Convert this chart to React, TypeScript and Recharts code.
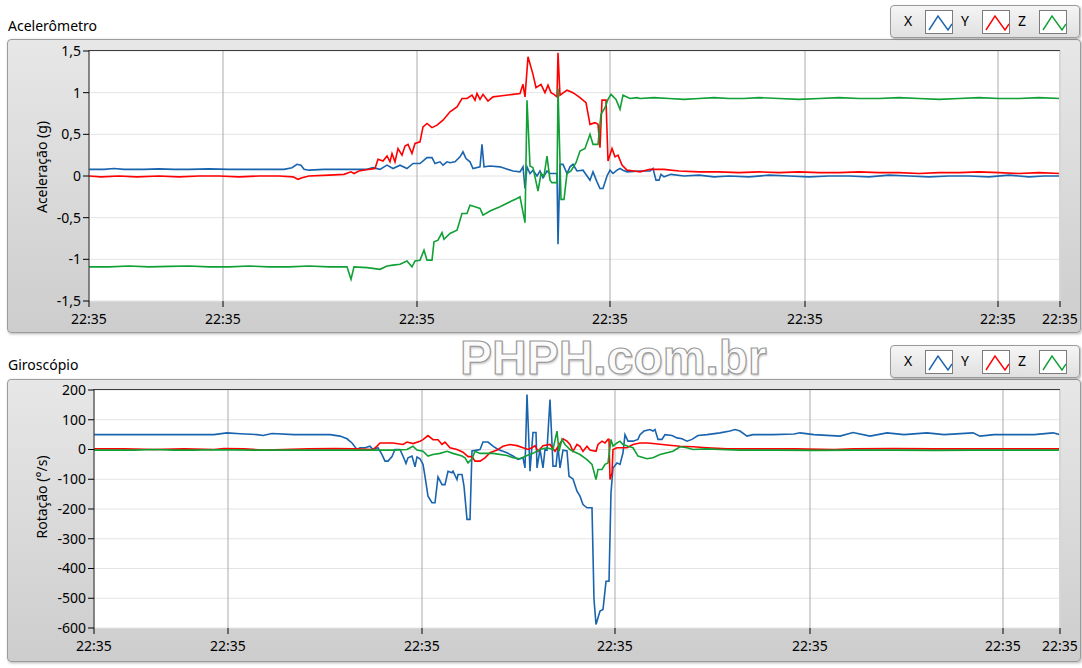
import { LineChart, Line, XAxis, YAxis, CartesianGrid } from 'recharts'

type Pair = [number, number]

const timeLabel = '22:35'
const accelTimeTicks = [0, 134, 328, 521, 716, 909, 971]
const gyroTimeTicks = [0, 134, 328, 521, 716, 909, 966]
const accelTicks = [-1.5, -1, -0.5, 0, 0.5, 1, 1.5]
const gyroTicks = [-600, -500, -400, -300, -200, -100, 0, 100, 200]

const seriesNames = ['X', 'Y', 'Z']
const seriesColors = ['#1a64ae', '#ff0000', '#10a035']

// [sample, g]
const accelX: Pair[] = [
  [0, 0.08], [15, 0.08], [25, 0.09], [35, 0.08], [55, 0.08], [70, 0.085], [85, 0.08], [100, 0.08],
  [120, 0.085], [140, 0.08], [160, 0.08], [180, 0.08], [195, 0.08], [203, 0.1], [208, 0.14], [212, 0.13],
  [215, 0.08], [220, 0.07], [235, 0.08], [260, 0.08], [278, 0.08], [284, 0.1], [291, 0.08], [298, 0.13],
  [304, 0.09], [311, 0.13], [318, 0.09], [324, 0.15], [331, 0.15], [338, 0.22], [343, 0.22], [346, 0.15],
  [351, 0.17], [354, 0.13], [358, 0.17], [361, 0.16], [366, 0.17], [371, 0.23], [374, 0.29], [377, 0.21],
  [381, 0.17], [384, 0.09], [391, 0.11], [393, 0.38], [395, 0.11], [401, 0.12], [411, 0.11], [424, 0.06],
  [431, 0.05], [434, 0.11], [436, -0.15], [438, 0.11], [441, 0.03], [444, 0.07], [448, 0.0], [451, 0.06],
  [454, -0.02], [458, 0.06], [461, 0.03], [468, 0.03], [469, -0.82], [471, 0.14], [474, 0.14], [478, 0.03],
  [481, 0.11], [484, 0.14], [488, 0.06], [494, 0.07], [501, -0.05], [504, 0.05], [508, -0.07], [511, -0.15],
  [514, -0.15], [518, 0.0], [521, 0.07], [524, 0.03], [528, 0.07], [531, 0.09], [534, 0.07], [538, 0.05],
  [551, 0.06], [561, 0.06], [564, 0.09], [567, -0.05], [570, -0.05], [572, 0.02], [575, -0.01], [582, 0.02],
  [595, 0.0], [610, 0.01], [625, -0.01], [640, 0.0], [660, -0.01], [680, 0.01], [700, 0.0], [720, -0.01],
  [740, 0.0], [760, 0.0], [780, -0.01], [800, 0.01], [820, 0.0], [840, -0.01], [860, 0.0], [880, 0.0],
  [900, -0.01], [920, 0.01], [940, -0.01], [955, 0.0], [971, 0.0],
]

const accelY: Pair[] = [
  [0, 0], [12, -0.01], [30, 0], [48, -0.01], [70, 0], [90, -0.01], [110, 0], [130, 0], [150, -0.01],
  [170, 0], [190, 0], [204, -0.01], [209, -0.04], [213, -0.02], [220, 0], [240, 0.01], [255, 0.02],
  [262, 0.05], [265, 0.03], [270, 0.06], [280, 0.08], [286, 0.09], [289, 0.2], [294, 0.18], [298, 0.24],
  [301, 0.17], [303, 0.27], [306, 0.17], [309, 0.33], [313, 0.25], [316, 0.36], [319, 0.38], [323, 0.27],
  [326, 0.39], [331, 0.41], [334, 0.59], [338, 0.63], [343, 0.58], [348, 0.61], [354, 0.67], [361, 0.77],
  [368, 0.83], [373, 0.93], [378, 0.93], [383, 0.97], [386, 0.91], [388, 0.99], [391, 0.92], [394, 0.98],
  [399, 0.9], [404, 0.95], [411, 0.96], [424, 0.98], [431, 0.99], [434, 1.1], [436, 0.95], [439, 1.43],
  [444, 1.22], [447, 1.06], [452, 1.1], [456, 1.0], [459, 1.09], [462, 1.0], [465, 0.98], [468, 0.95],
  [469, 1.48], [471, 0.97], [478, 1.03], [484, 1.0], [491, 0.94], [497, 0.88], [501, 0.62], [506, 0.64],
  [509, 0.62], [511, 0.34], [513, 0.91], [517, 0.91], [519, 0.18], [523, 0.33], [526, 0.23], [529, 0.25],
  [533, 0.13], [538, 0.07], [545, 0.06], [551, 0.05], [561, 0.08], [575, 0.08], [590, 0.06], [610, 0.05],
  [630, 0.05], [650, 0.04], [670, 0.05], [690, 0.04], [710, 0.05], [730, 0.04], [750, 0.04], [770, 0.05],
  [790, 0.04], [810, 0.04], [830, 0.03], [850, 0.04], [870, 0.04], [890, 0.05], [910, 0.04], [930, 0.03],
  [950, 0.04], [971, 0.03],
]

const accelZ: Pair[] = [
  [0, -1.09], [20, -1.09], [40, -1.08], [60, -1.09], [80, -1.085], [100, -1.08], [120, -1.09], [140, -1.09],
  [160, -1.08], [180, -1.09], [200, -1.09], [220, -1.08], [240, -1.09], [258, -1.09], [262, -1.24],
  [265, -1.09], [278, -1.1], [291, -1.12], [298, -1.08], [304, -1.07], [311, -1.06], [318, -1.02],
  [323, -1.09], [326, -1.02], [331, -1.01], [335, -0.89], [338, -1.01], [343, -1.01], [345, -0.79],
  [349, -0.77], [353, -0.68], [355, -0.76], [361, -0.69], [368, -0.65], [373, -0.45], [378, -0.45],
  [381, -0.35], [386, -0.37], [391, -0.39], [394, -0.47], [401, -0.42], [411, -0.37], [421, -0.31],
  [428, -0.27], [431, -0.25], [436, -0.56], [438, 0.91], [441, 0.12], [444, 0.1], [449, -0.18], [452, 0.03],
  [455, 0.0], [458, 0.24], [461, -0.05], [463, -0.08], [468, -0.08], [469, 1.05], [472, -0.28], [475, -0.28],
  [478, 0.03], [482, 0.06], [487, 0.16], [491, 0.3], [496, 0.33], [501, 0.5], [504, 0.38], [509, 0.38],
  [512, 0.74], [516, 0.82], [519, 0.92], [522, 0.98], [527, 0.92], [531, 0.8], [534, 0.97], [541, 0.93],
  [548, 0.94], [551, 0.93], [565, 0.94], [580, 0.93], [595, 0.92], [610, 0.93], [625, 0.94], [640, 0.93],
  [655, 0.93], [670, 0.94], [690, 0.93], [710, 0.92], [730, 0.93], [750, 0.94], [770, 0.93], [790, 0.93],
  [810, 0.94], [830, 0.93], [850, 0.92], [870, 0.93], [890, 0.94], [910, 0.93], [930, 0.93], [950, 0.94],
  [971, 0.93],
]

// [sample, °/s]
const gyroX: Pair[] = [
  [0, 50], [40, 50], [80, 50], [120, 50], [133, 56], [146, 53], [163, 50], [169, 47], [178, 54], [200, 50],
  [229, 50], [236, 50], [246, 45], [253, 36], [258, 22], [263, 0], [266, 6], [271, 6], [276, 11], [279, 0],
  [284, 6], [288, -17], [291, -39], [294, -39], [298, -24], [301, 0], [306, 0], [309, -22], [312, -47],
  [314, -28], [318, -22], [321, -58], [323, -25], [326, -31], [329, -50], [331, -90], [334, -157],
  [338, -179], [341, -179], [344, -92], [348, -118], [351, -118], [354, -73], [358, -78], [359, -73],
  [363, -101], [364, -84], [368, -84], [370, -123], [373, -235], [376, -235], [378, -5], [383, -2],
  [386, 0], [389, 25], [394, 25], [399, 11], [404, 0], [413, -11], [419, -22], [424, -33], [429, -28],
  [431, -62], [433, 185], [436, -73], [439, 57], [442, 57], [443, -62], [446, 0], [449, -62], [451, 0],
  [453, -2], [456, 168], [459, -56], [462, -56], [464, 11], [466, -62], [469, -2], [473, -5], [475, -90],
  [479, -99], [483, -140], [486, -157], [489, -185], [493, -196], [498, -196], [500, -504], [502, -588],
  [506, -543], [509, -538], [512, -443], [515, -443], [517, -145], [519, -62], [523, -45], [526, -50],
  [529, -11], [531, 50], [534, 28], [539, 28], [544, 34], [546, 50], [550, 62], [556, 67], [559, 62],
  [561, 67], [564, 34], [568, 34], [571, 50], [578, 47], [583, 39], [588, 36], [593, 28], [598, 34],
  [604, 47], [613, 50], [626, 56], [636, 62], [641, 67], [646, 62], [653, 45], [659, 50], [679, 50],
  [700, 52], [706, 56], [720, 50], [746, 45], [759, 57], [776, 45], [793, 56], [810, 50], [833, 56],
  [850, 50], [879, 56], [886, 45], [900, 50], [920, 50], [940, 50], [959, 56], [966, 50],
]

const gyroY: Pair[] = [
  [0, 2], [30, 2], [60, 0], [90, 2], [120, 0], [130, 3], [150, 2], [170, -2], [190, 0], [215, 2], [240, 3],
  [260, 2], [279, 0], [283, 11], [286, 22], [299, 22], [309, 17], [313, 25], [319, 20], [326, 28], [329, 33],
  [334, 47], [339, 33], [344, 33], [348, 17], [351, 25], [356, 6], [363, 0], [369, -9], [374, -24],
  [378, -24], [381, -39], [386, -39], [391, -28], [396, -11], [403, -2], [409, 11], [416, 17], [423, 13],
  [429, 6], [434, 0], [438, 6], [441, 13], [444, -6], [449, 13], [456, 17], [461, -6], [466, 20], [469, 36],
  [473, 28], [476, 17], [479, -6], [483, 17], [486, 11], [489, -6], [493, 11], [496, -2], [502, -6],
  [504, 17], [508, 28], [511, 22], [514, 34], [515, 34], [516, -101], [518, -79], [519, 0], [523, 6],
  [533, 6], [539, 17], [546, 22], [553, 22], [559, 20], [573, 15], [586, 11], [599, 9], [613, 6], [633, 2],
  [660, 2], [700, 2], [740, 0], [760, 2], [800, 3], [840, 2], [880, 2], [920, 2], [966, 2],
]

const gyroZ: Pair[] = [
  [0, -2], [40, -2], [60, 0], [80, -2], [100, -2], [120, -1], [160, -2], [200, -2], [240, -2], [263, -2],
  [300, -2], [313, 0], [319, 11], [323, -2], [329, -6], [334, -22], [339, -17], [346, -13], [353, -6],
  [359, -13], [368, -22], [371, -28], [374, -45], [378, -31], [381, -6], [386, -13], [399, -13], [413, -20],
  [419, -28], [426, -31], [433, -20], [439, -13], [446, 0], [453, 6], [459, 0], [463, 62], [465, -6],
  [468, 34], [471, 17], [476, 0], [479, -6], [486, -17], [493, -34], [498, -50], [502, -101], [504, -67],
  [508, -67], [511, -50], [514, -45], [517, 34], [519, 11], [523, 22], [526, 28], [529, 17], [534, 11],
  [539, 6], [544, -22], [553, -31], [559, -28], [566, -17], [579, -6], [586, 9], [593, 6], [599, 0],
  [613, 2], [626, 0], [646, -2], [680, -2], [720, -3], [760, -2], [800, -2], [840, -3], [880, -2],
  [920, -2], [966, -2],
]

interface PanelLayout {
  frameTop: number
  frameBottom: number
  plotLeft: number
  plotTop: number
  plotBottom: number
  titleTop: number
  legendTop: number
  yLabelCenter: number
}

const PLOT_RIGHT = 1060

function SeriesLegend({ top }: { top: number }) {
  return (
    <div
      style={{
        position: 'absolute', left: 890, top, width: 190, height: 33, boxSizing: 'border-box',
        border: '1px solid #9a9a9a', borderRadius: 4, background: 'linear-gradient(#f5f5f5, #e0e0e0)',
        boxShadow: '1px 1px 2px rgba(0,0,0,0.3)',
      }}
    >
      {seriesNames.map((name, i) => (
        <div key={name}>
          <span style={{ position: 'absolute', left: 7 + 57 * i, top: 6, width: 20, textAlign: 'center', lineHeight: '18px' }}>
            {name}
          </span>
          <svg
            width={28}
            height={24}
            style={{ position: 'absolute', left: 34 + 57 * i, top: 4, background: '#fff', border: '1px solid #7c7c7c', boxSizing: 'border-box' }}
          >
            <polyline points="3,19 12,5 22,19 26,13" fill="none" stroke={seriesColors[i]} strokeWidth={1.4} />
          </svg>
        </div>
      ))}
    </div>
  )
}

function Panel(props: {
  title: string
  yLabel: string
  series: Pair[][]
  timeTicks: number[]
  valueTicks: number[]
  formatValue: (v: number) => string
  layout: PanelLayout
}) {
  const { title, yLabel, series, timeTicks, valueTicks, formatValue, layout } = props
  const vMin = valueTicks[0]
  const vMax = valueTicks[valueTicks.length - 1]
  const chartHeight = layout.plotBottom + 40

  return (
    <>
      <div style={{ position: 'absolute', left: 8, top: layout.titleTop, lineHeight: '14px' }}>{title}</div>
      <div
        style={{
          position: 'absolute', left: 7, top: layout.frameTop, width: 1074, height: layout.frameBottom - layout.frameTop,
          boxSizing: 'border-box', border: '1px solid #9b9b9b', borderRadius: 4,
          background: 'linear-gradient(#e7e7e7, #cdcdcd)', boxShadow: '1px 1px 3px rgba(0,0,0,0.3)',
        }}
      />
      <div style={{ position: 'absolute', left: 0, top: 0 }}>
        <LineChart
          width={1082}
          height={chartHeight}
          margin={{ top: layout.plotTop, right: 1082 - PLOT_RIGHT, bottom: 10, left: layout.plotLeft - 50 }}
        >
          <CartesianGrid vertical={false} stroke="#e4e4e4" fill="#ffffff" />
          <CartesianGrid horizontal={false} stroke="#ababab" />
          <XAxis
            type="number"
            dataKey="n"
            domain={[0, timeTicks[timeTicks.length - 1]]}
            ticks={timeTicks}
            interval={0}
            tickFormatter={() => timeLabel}
            height={30}
            axisLine={false}
            tickSize={6}
            tickMargin={7}
            tick={{ fill: '#000', fontSize: 14 }}
            tickLine={{ stroke: '#000' }}
            allowDataOverflow
          />
          <YAxis
            type="number"
            domain={[vMin, vMax]}
            ticks={valueTicks}
            interval={0}
            width={50}
            tickFormatter={formatValue}
            tickSize={6}
            tickMargin={2}
            axisLine={{ stroke: '#3c3c3c' }}
            tick={{ fill: '#000', fontSize: 14 }}
            tickLine={{ stroke: '#000' }}
            allowDataOverflow
          />
          {series.map((pairs, i) => (
            <Line
              key={seriesNames[i]}
              name={seriesNames[i]}
              data={pairs.map(([n, v]) => ({ n, v }))}
              dataKey="v"
              type="linear"
              stroke={seriesColors[i]}
              strokeWidth={1.6}
              dot={false}
              isAnimationActive={false}
            />
          ))}
        </LineChart>
      </div>
      {/* plot frame: dark top edge, light right edge */}
      <div style={{ position: 'absolute', left: layout.plotLeft - 1, top: layout.plotTop - 1, width: PLOT_RIGHT - layout.plotLeft + 1, height: 1, background: '#3c3c3c' }} />
      <div style={{ position: 'absolute', left: PLOT_RIGHT - 1, top: layout.plotTop, width: 2, height: layout.plotBottom - layout.plotTop, background: '#d6d6d6' }} />
      <div
        style={{
          position: 'absolute', left: 42, top: layout.yLabelCenter, whiteSpace: 'nowrap',
          transform: 'translate(-50%, -50%) rotate(-90deg)', lineHeight: '16px',
        }}
      >
        {yLabel}
      </div>
      <SeriesLegend top={layout.legendTop} />
    </>
  )
}

export default function App() {
  return (
    <div
      style={{
        position: 'absolute', left: 0, top: 0, width: 1082, height: 668, overflow: 'hidden', background: '#fff',
        fontFamily: "'Noto Sans', 'Open Sans', sans-serif", fontSize: 14, color: '#000',
      }}
    >
      <Panel
        title="Acelerômetro"
        yLabel="Aceleração (g)"
        series={[accelX, accelY, accelZ]}
        timeTicks={accelTimeTicks}
        valueTicks={accelTicks}
        formatValue={(v) => String(v).replace('.', ',')}
        layout={{ frameTop: 39, frameBottom: 333, plotLeft: 89, plotTop: 51, plotBottom: 301, titleTop: 19, legendTop: 5, yLabelCenter: 167 }}
      />
      <Panel
        title="Giroscópio"
        yLabel="Rotação (°/s)"
        series={[gyroX, gyroY, gyroZ]}
        timeTicks={gyroTimeTicks}
        valueTicks={gyroTicks}
        formatValue={(v) => String(v)}
        layout={{ frameTop: 379, frameBottom: 662, plotLeft: 94, plotTop: 390, plotBottom: 628, titleTop: 358, legendTop: 345, yLabelCenter: 497 }}
      />
      <div
        style={{
          position: 'absolute', left: 460, top: 334, fontFamily: "'Liberation Sans', Arial, sans-serif",
          fontWeight: 'bold', fontSize: 48, lineHeight: '48px', color: '#fbfbfb',
          WebkitTextStroke: '1.2px #9a9a9a', textShadow: '1px 2px 2px rgba(0,0,0,0.2)', whiteSpace: 'nowrap',
        }}
      >
        PHPH.com.br
      </div>
    </div>
  )
}
